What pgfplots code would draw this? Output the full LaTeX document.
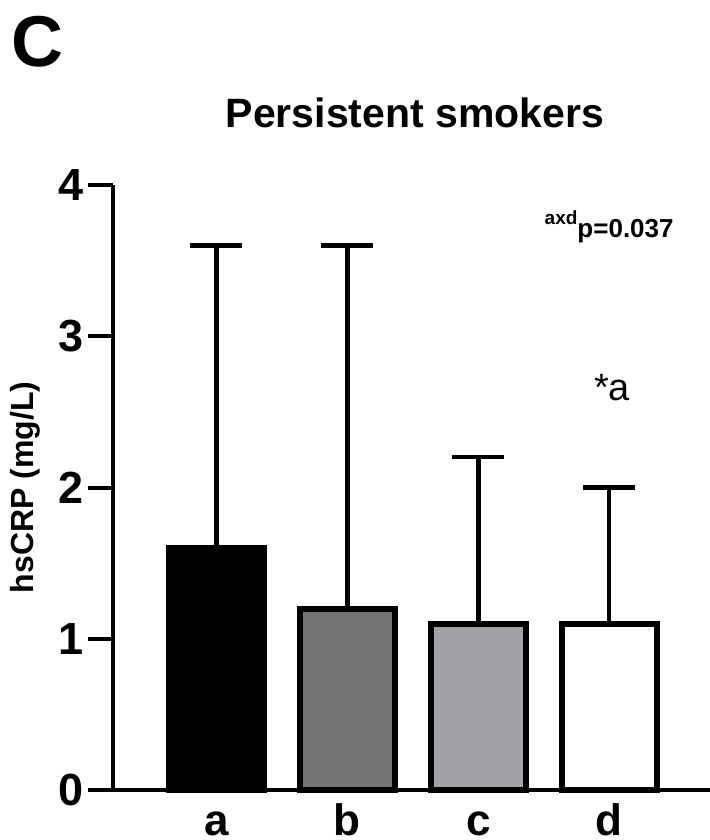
\documentclass[border=0pt]{standalone}
\usepackage{pgfplots}
\pgfplotsset{compat=1.18}
\usepackage{fontspec}
\setmainfont{Liberation Sans}
\definecolor{barb}{HTML}{747474}
\definecolor{barc}{HTML}{A2A1A6}
\pgfplotsset{
  errstyle/.style={
    error bars/.cd, y dir=plus, y explicit,
    error bar style={line width=2.25pt, black},
    error mark options={rotate=90, line width=2.25pt, mark size=13pt, black}}
}
\begin{document}
\begin{tikzpicture}
\useasboundingbox (-56.5pt,-25pt) rectangle (298.5pt,395pt);
\begin{axis}[
  scale only axis, width=298.5pt, height=302.5pt,
  xmin=0.21, xmax=4.77, ymin=0, ymax=4,
  enlargelimits=false,
  axis x line*=bottom, axis y line*=left,
  axis line style={line width=2pt, black},
  xtick={1,2,3,4}, xticklabels={a,b,c,d},
  ytick={0,1,2,3,4},
  xtick style={draw=none},
  ytick style={line width=2pt, black},
  tick align=outside,
  major tick length=12.5pt,
  /pgf/number format/assume math mode=true,
  yticklabel style={font=\fontsize{22.5}{22.5}\selectfont\bfseries, inner sep=2pt},
  xticklabel style={font=\fontsize{22}{22}\selectfont\bfseries, anchor=base, text depth=0pt, inner sep=0pt, yshift=-10pt},
  ylabel={hsCRP (mg/L)},
  ylabel style={font=\fontsize{16}{16}\selectfont\bfseries, at={(axis description cs:-0.1474,0.5)}, anchor=center},
  ybar, bar width=47.5pt,
  clip=false,
]
\addplot[bar shift=0pt, fill=black, draw=black, line width=3pt, errstyle]
  coordinates {(1,1.6) +- (0,2.0)};
\addplot[bar shift=0pt, fill=barb, draw=black, line width=3pt, errstyle]
  coordinates {(2,1.2) +- (0,2.4)};
\addplot[bar shift=0pt, fill=barc, draw=black, line width=3pt, errstyle]
  coordinates {(3,1.1) +- (0,1.1)};
\addplot[bar shift=0pt, fill=white, draw=black, line width=3pt, errstyle]
  coordinates {(4,1.1) +- (0,0.9)};
\end{axis}
\node[anchor=base west, inner sep=0pt, font=\fontsize{36}{36}\selectfont\bfseries] at (-51pt,361.5pt) {C};
\node[anchor=base, inner sep=0pt, font=\fontsize{20.5}{20.5}\selectfont\bfseries] at (151pt,331pt) {Persistent smokers};
\node[anchor=base east, inner sep=0pt, font=\fontsize{13}{13}\selectfont\bfseries] at (280.5pt,276pt) {{\fontsize{9.5}{9.5}\selectfont\raisebox{6.5pt}{axd}}p=0.037};
\node[anchor=base, inner sep=0pt, font=\fontsize{19}{19}\selectfont] at (249.5pt,194.5pt) {*a};
\end{tikzpicture}
\end{document}
